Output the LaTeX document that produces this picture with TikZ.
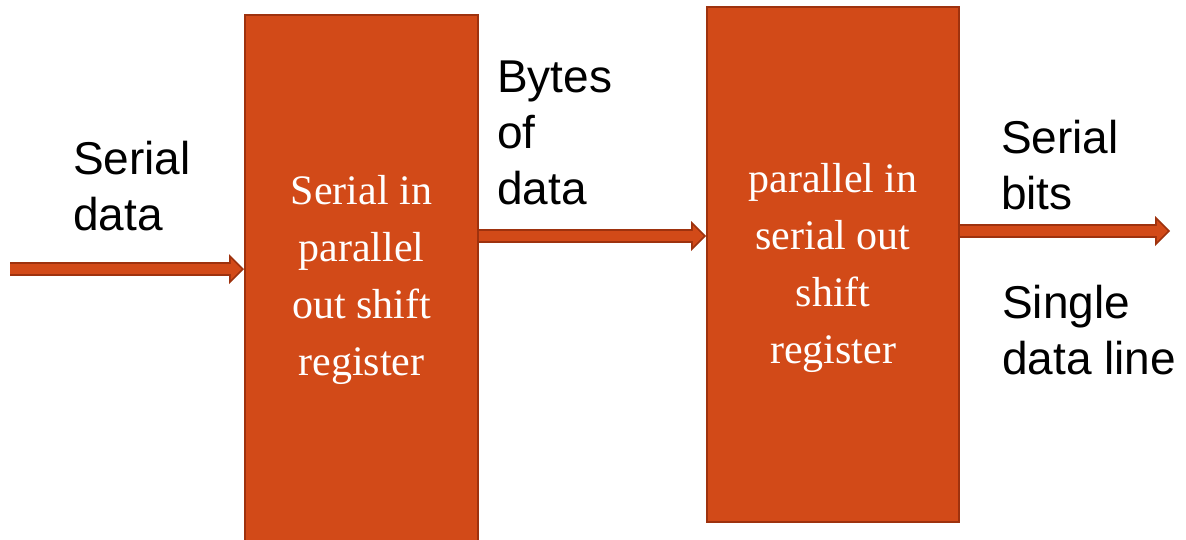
\documentclass[tikz,border=0pt]{standalone}
\usepackage{fontspec}
\setmainfont{Liberation Serif}
\setsansfont{Liberation Sans}
\usetikzlibrary{arrows.meta}
\definecolor{regfill}{RGB}{210,74,24}
\definecolor{regedge}{RGB}{158,50,14}
\tikzset{
  regbox/.style={draw=regedge, fill=regfill, line width=2pt, text=white,
    align=center, font=\fontsize{42}{57}\selectfont, inner sep=0pt},
  lbl/.style={anchor=north west, align=left, inner sep=0pt,
    font=\sffamily\fontsize{46}{56}\selectfont},
  flow/.style={regedge, line width=14pt, -{Triangle[length=15pt,width=30pt,line width=0pt]},
    postaction={draw=regfill, line width=10.5pt, -{Triangle[length=10.75pt,width=21.5pt,line width=0pt]}, shorten >=2.5pt}}
}
\begin{document}
\begin{tikzpicture}[x=1pt,y=-1pt]
                \useasboundingbox (0,0) rectangle (1186,539);
                \node [regbox, minimum width=233, minimum height=530] (sipo) at (361.5,280) {Serial in\\parallel\\out shift\\register};
                \node [regbox, minimum width=252, minimum height=515] (piso) at (833,264.5) {\rule{0pt}{36pt}parallel in\\serial out\\shift\\register};
                \node [lbl] (serin) at (73,141) {Serial\\data};
                \node [lbl] (bytes) at (497,61) {Bytes\\of\\data};
                \node [lbl] (serout) at (1001,120) {Serial\\bits};
                \node [lbl] (line) at (1002,285) {Single\\data line};
                \coordinate (din) at (10,269);
                \coordinate (bus) at (590,236);
                \coordinate (dout) at (1170,231);
                \draw [flow] (din) to (din -| sipo.west);
                \draw [flow] (sipo.east |- bus) to (piso.west |- bus);
                \draw [flow] (piso.east |- dout) to (dout);
            \end{tikzpicture}
\end{document}
